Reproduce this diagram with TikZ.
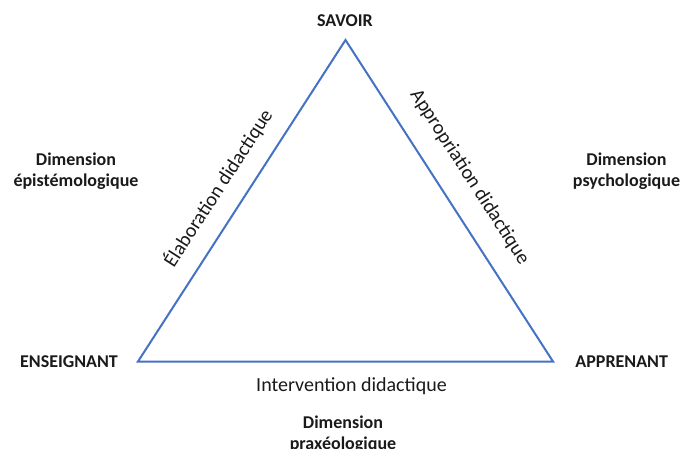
\documentclass[tikz,border=0pt]{standalone}
\usepackage{fontspec}
\setmainfont{Carlito}
\usetikzlibrary{calc}
\definecolor{triblue}{HTML}{4472C4}
\definecolor{txt}{HTML}{1A1A1A}
\begin{document}
\begin{tikzpicture}[x=1pt,y=-1pt,
  vertexlabel/.style={font=\fontsize{18}{21}\selectfont\bfseries, text=txt, inner sep=0pt, anchor=base},
  dimlabel/.style={font=\fontsize{18}{20.5}\selectfont\bfseries, text=txt, align=center, inner sep=0pt},
  edgelabel/.style={font=\fontsize{20}{24}\selectfont, text=txt, inner sep=0pt},
  side/.style={draw=triblue, line width=2pt, line join=miter}]
\useasboundingbox (0,0) rectangle (680,449);
\fill[white] (0,0) rectangle (680,449);
\coordinate (S) at (345.5,40);
\coordinate (E) at (138,361.5);
\coordinate (A) at (553,361.5);
\draw[side] (E) -- (S) -- (A) -- cycle;
\path (E) -- (S) node[edgelabel, pos=0.494, sloped, yshift=27pt] (elab) {Élaboration didactique};
\path (S) -- (A) node[edgelabel, pos=0.477, sloped, yshift=30pt] (appr) {Appropriation didactique};
\node[edgelabel, anchor=base] (interv) at (351.5,391) {Intervention didactique};
\node[vertexlabel] (savoir) at (345,27) {SAVOIR};
\node[vertexlabel] (ens) at (69,367) {ENSEIGNANT};
\node[vertexlabel] (app) at (621.7,367) {APPRENANT};
\node[dimlabel] (depi) at (76,171) {Dimension\\épistémologique};
\node[dimlabel] (dpsy) at (626.5,171) {Dimension\\psychologique};
\node[dimlabel] (dpra) at (343,434) {Dimension\\praxéologique};
\end{tikzpicture}
\end{document}
